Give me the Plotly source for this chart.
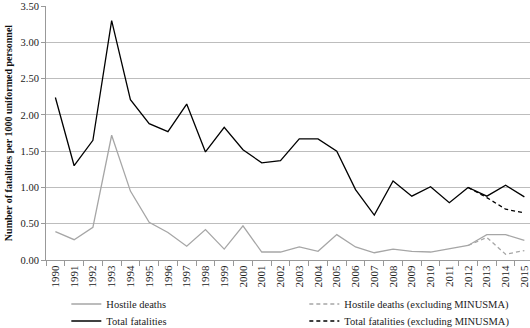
import plotly.graph_objects as go

years = [str(y) for y in range(1990, 2016)]
total = [2.24, 1.30, 1.65, 3.30, 2.21, 1.88, 1.77, 2.15, 1.49, 1.83, 1.52, 1.34, 1.37,
         1.67, 1.67, 1.50, 0.97, 0.62, 1.09, 0.88, 1.01, 0.79, 1.00, 0.88, 1.03, 0.87]
hostile = [0.39, 0.28, 0.45, 1.72, 0.95, 0.52, 0.38, 0.19, 0.42, 0.15, 0.47, 0.11, 0.11,
           0.18, 0.12, 0.35, 0.18, 0.10, 0.15, 0.12, 0.11, 0.15, 0.20, 0.35, 0.35, 0.27]
excl_years = ["2012", "2013", "2014", "2015"]
total_excl = [1.00, 0.86, 0.70, 0.65]
hostile_excl = [0.20, 0.31, 0.08, 0.13]

FONT = "Liberation Serif"
GRAY = "#a6a6a6"

fig = go.Figure()
fig.add_trace(go.Scatter(x=years, y=hostile, mode="lines", name="Hostile deaths",
                         legend="legend",
                         line=dict(color=GRAY, width=1.3)))
fig.add_trace(go.Scatter(x=excl_years, y=hostile_excl, mode="lines",
                         name="Hostile deaths (excluding MINUSMA)", legend="legend",
                         line=dict(color=GRAY, width=1.3, dash="4px,3px")))
fig.add_trace(go.Scatter(x=years, y=total, mode="lines", name="Total fatalities",
                         legend="legend2",
                         line=dict(color="#000000", width=1.3)))
fig.add_trace(go.Scatter(x=excl_years, y=total_excl, mode="lines",
                         name="Total fatalities (excluding MINUSMA)", legend="legend2",
                         line=dict(color="#000000", width=1.3, dash="4px,3px")))

leg_common = dict(orientation="h", x=0.042, xanchor="left",
                  yref="container", yanchor="middle",
                  entrywidth=193, entrywidthmode="pixels",
                  font=dict(family=FONT, size=10.5, color="#222"),
                  tracegroupgap=0, itemwidth=30, bgcolor="rgba(0,0,0,0)")

fig.update_layout(
    width=530, height=328,
    margin=dict(l=46, r=0, t=6, b=68, autoexpand=False),
    plot_bgcolor="white", paper_bgcolor="white",
    font=dict(family=FONT, size=11, color="#222"),
    showlegend=True,
    legend=dict(leg_common, y=1 - 304 / 328),
    legend2=dict(leg_common, y=1 - 321 / 328),
    xaxis=dict(type="category", range=[-0.5, 25.3], tickangle=-90,
               showgrid=False, showline=True, linecolor="#999", linewidth=1,
               ticks="outside", tickson="boundaries", ticklen=5, tickcolor="#999",
               tickfont=dict(family=FONT, size=11, color="#222")),
    yaxis=dict(range=[0, 3.502], tickvals=[0, 0.5, 1, 1.5, 2, 2.5, 3, 3.5],
               tickformat=".2f",
               showgrid=True, gridcolor="#bdbdbd", gridwidth=1,
               showline=True, linecolor="#999", linewidth=1,
               ticks="outside", ticklen=4, tickcolor="#999",
               tickfont=dict(family=FONT, size=10.5, color="#222"),
               zeroline=False,
               title=dict(text="<b>Number of fatalities per 1000 uniformed personnel</b>",
                          font=dict(family=FONT, size=10, color="#111"),
                          standoff=6)),
)
fig.write_html("out.html")
